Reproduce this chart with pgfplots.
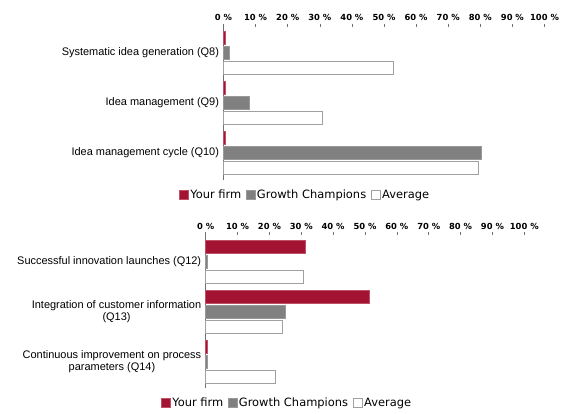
\documentclass[border=0pt]{standalone}
\usepackage{pgfplots}
\usepackage{pgfplotstable}
\pgfplotsset{compat=1.18}
\usepackage{fontspec}
\setmainfont{Liberation Sans}
\newfontfamily\legfont{DejaVu Sans}
\newfontfamily\tickfont{DejaVu Sans}
\definecolor{firmred}{HTML}{A31432}
\definecolor{firmredb}{HTML}{C05068}
\definecolor{champ}{HTML}{808080}
\definecolor{champb}{HTML}{999999}
\definecolor{avgb}{HTML}{A0A0A0}
\definecolor{axisgray}{HTML}{707070}

\pgfplotstableread{
y  firm champ avg
0  0.6  1.7  52.9
1  0.6  8.0  30.9
2  0.6  80.4 79.4
}\topdata
\pgfplotstableread{
y  firm champ avg
0  31.3 0.5  30.6
1  51.3 24.9 24.2
2  0.6  0.5  21.9
}\botdata

\pgfplotsset{
  mybars/.style={
    scale only axis,
    height=153bp,
    xmin=0, xmax=100,
    ymin=-0.53, ymax=2.53,
    y dir=reverse,
    xbar, bar width=0.26, bar shift=0pt,
    axis x line*=top,
    axis y line*=left,
    x axis line style={draw=none},
    y axis line style={draw=axisgray, line width=1.4pt},
    xtick={0,10,...,100},
    xticklabels={0 \%,10 \%,20 \%,30 \%,40 \%,50 \%,60 \%,70 \%,80 \%,90 \%,100 \%},
    xticklabel style={font=\tickfont\bfseries\fontsize{8.4}{9}\selectfont, text=black, yshift=-1bp},
    tick align=outside,
    major tick length=3bp,
    xtick style={draw=axisgray, line width=0.5pt},
    ytick={0,1,2},
    ytick style={draw=none},
    yticklabel style={font=\fontsize{11}{12.5}\selectfont, align=center, xshift=2bp},
    legend columns=3,
    legend style={draw=none, fill=none, font=\legfont\fontsize{11.5}{13}\selectfont,
      /tikz/every even column/.append style={column sep=3bp}, inner sep=0pt,
      nodes={inner sep=1.5bp}},
    legend image code/.code={\draw[##1] (0bp,-4.5bp) rectangle (9bp,4.5bp);},
    clip=false,
  },
  firmstyle/.style={fill=firmred, draw=firmredb, line width=0.6pt},
  champstyle/.style={fill=champ, draw=champb, line width=0.6pt},
  avgstyle/.style={fill=white, draw=avgb, line width=1pt},
}

\begin{document}
\begin{tikzpicture}
\useasboundingbox (0,0) rectangle (562bp,-414bp);
\begin{axis}[mybars,
  at={(223.5bp,-26.5bp)}, anchor=north west, width=321bp,
  yticklabels={Systematic idea generation (Q8), Idea management (Q9), Idea management cycle (Q10)},
  legend style={at={(0.254,-0.101)}, anchor=center},
]
\addplot[firmstyle] table[x=firm, y expr=\thisrow{y}-0.3] {\topdata};
\addplot[champstyle] table[x=champ, y=y] {\topdata};
\addplot[avgstyle] table[x=avg, y expr=\thisrow{y}+0.3] {\topdata};
\legend{Your firm, Growth Champions, Average}
\end{axis}
\begin{axis}[mybars,
  at={(205.7bp,-235bp)}, anchor=north west, width=318.6bp,
  yticklabels={Successful innovation launches (Q12), {Integration of customer information\hspace{4bp}\\(Q13)\hspace{4bp}}, {Continuous improvement on process\hspace{4bp}\\parameters (Q14)\hspace{4bp}}},
  legend style={at={(0.255,-0.098)}, anchor=center},
]
\addplot[firmstyle] table[x=firm, y expr=\thisrow{y}-0.3] {\botdata};
\addplot[champstyle] table[x=champ, y=y] {\botdata};
\addplot[avgstyle] table[x=avg, y expr=\thisrow{y}+0.3] {\botdata};
\legend{Your firm, Growth Champions, Average}
\end{axis}
\end{tikzpicture}
\end{document}
